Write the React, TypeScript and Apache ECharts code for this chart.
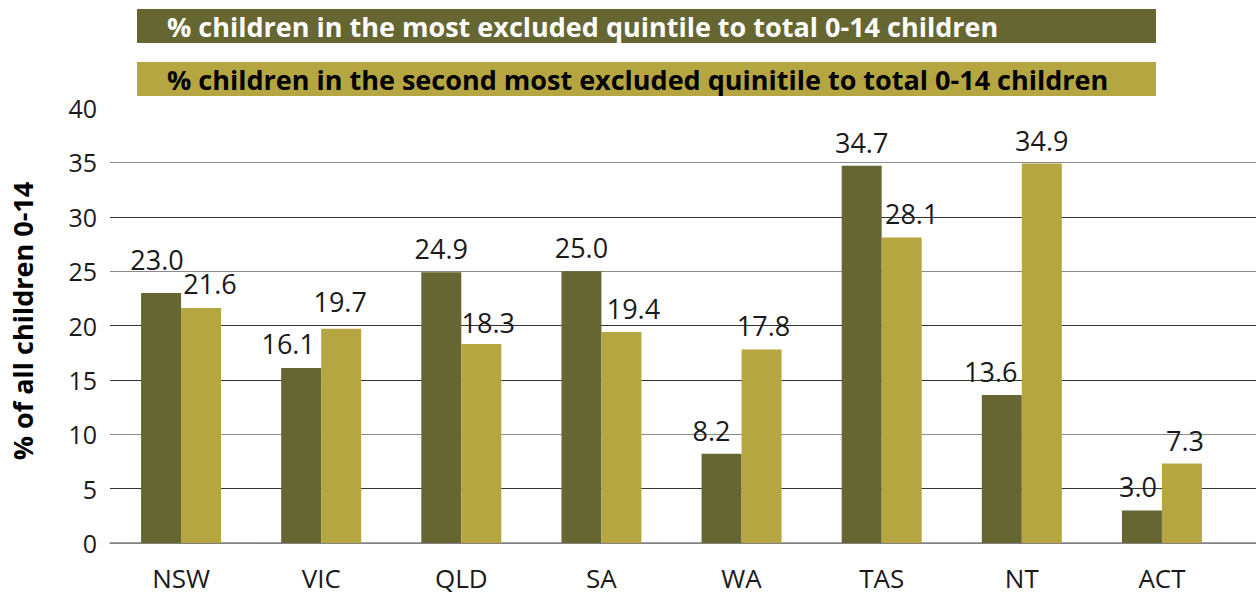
import React, { useEffect, useRef } from "react";
import * as echarts from "echarts";

const categories = ["NSW", "VIC", "QLD", "SA", "WA", "TAS", "NT", "ACT"];
const mostExcluded = [23.0, 16.1, 24.9, 25.0, 8.2, 34.7, 13.6, 3.0];
const secondMostExcluded = [21.6, 19.7, 18.3, 19.4, 17.8, 28.1, 34.9, 7.3];
const seriesNames = [
  "% children in the most excluded quintile to total 0-14 children",
  "% children in the second most excluded quinitile to total 0-14 children",
];
const yAxisTitle = "% of all children 0-14";

// label nudges (px) reproducing the hand-placed data labels of the original
const darkLabelNudge: [number, number][] = [
  [-4, -10], [-13, -1], [0, 0], [0, 0], [-10, 0], [0, 0], [-11, 0], [-4, 0],
];
const lightLabelNudge: [number, number][] = [
  [9, -1], [-1, -4], [7, 2], [12, 0], [2, 0], [10, 0], [0, 1], [3, 0],
];

const DARK = "#666633";
const LIGHT = "#B5A642";
const FONT = "'Open Sans', 'Noto Sans', sans-serif";

export default function App() {
  const ref = useRef<HTMLDivElement>(null);
  useEffect(() => {
    if (!ref.current) return;
    const chart = echarts.init(ref.current, undefined, { renderer: "svg" });
    const gridColors = ["#8a8a8a", "#333", "#8a8a8a", "#333", "#333", "#8a8a8a", "#333", "#8a8a8a", "transparent"];
    const labelBase = {
      show: true,
      position: "top" as const,
      distance: 10,
      fontSize: 27,
      fontFamily: FONT,
      color: "#1a1a1a",
      formatter: (p: any) => Number(p.value).toFixed(1),
    };
    const build = (vals: number[], nudges: [number, number][]) =>
      vals.map((v, i) => ({ value: v, label: { offset: nudges[i] } }));
    chart.setOption({
      animation: false,
      textStyle: { fontFamily: FONT },
      grid: [
        { left: 110, right: 0, top: 108, bottom: 54, containLabel: false },
        { left: 111, right: 24, top: 108, bottom: 54, containLabel: false },
      ],
      xAxis: [
        {
          type: "category",
          gridIndex: 0,
          data: categories,
          axisLine: { show: true, lineStyle: { color: "#808080", width: 1.5 } },
          axisTick: { show: false },
          axisLabel: { show: false },
        },
        {
          type: "category",
          gridIndex: 1,
          data: categories,
          axisLine: { show: false },
          axisTick: { show: false },
          axisLabel: { fontSize: 26, color: "#1a1a1a", margin: 22, fontFamily: FONT },
        },
      ],
      yAxis: [
        {
          type: "value",
          gridIndex: 0,
          min: 0,
          max: 40,
          interval: 5,
          axisLine: { show: false },
          axisTick: { show: false },
          axisLabel: { fontSize: 25, color: "#1a1a1a", margin: 13, fontFamily: FONT },
          splitLine: { show: true, lineStyle: { color: gridColors, width: 1.2 } },
        },
        {
          type: "value",
          gridIndex: 1,
          min: 0,
          max: 40,
          interval: 5,
          show: false,
          splitLine: { show: false },
        },
      ],
      series: [
        {
          name: seriesNames[0],
          type: "bar",
          xAxisIndex: 1,
          yAxisIndex: 1,
          data: build(mostExcluded, darkLabelNudge),
          barWidth: 40,
          barGap: "0%",
          itemStyle: { color: DARK },
          label: { ...labelBase },
        },
        {
          name: seriesNames[1],
          type: "bar",
          xAxisIndex: 1,
          yAxisIndex: 1,
          data: build(secondMostExcluded, lightLabelNudge),
          barWidth: 40,
          barGap: "0%",
          itemStyle: { color: LIGHT },
          label: { ...labelBase },
        },
      ],
      graphic: [
        {
          type: "rect",
          shape: { x: 137, y: 9, width: 1019, height: 34 },
          style: { fill: DARK },
        },
        {
          type: "text",
          x: 167,
          y: 26,
          style: {
            text: seriesNames[0],
            fill: "#ffffff",
            fontSize: 27,
            fontWeight: "bold",
            fontFamily: FONT,
            textAlign: "left",
            textVerticalAlign: "middle",
          },
        },
        {
          type: "rect",
          shape: { x: 137, y: 62, width: 1019, height: 34 },
          style: { fill: LIGHT },
        },
        {
          type: "text",
          x: 167,
          y: 79,
          style: {
            text: seriesNames[1],
            fill: "#000000",
            fontSize: 27,
            fontWeight: "bold",
            fontFamily: FONT,
            textAlign: "left",
            textVerticalAlign: "middle",
          },
        },
        {
          type: "text",
          x: 22,
          y: 321,
          rotation: Math.PI / 2,
          style: {
            text: yAxisTitle,
            fill: "#000000",
            fontSize: 27,
            fontWeight: "bold",
            fontFamily: FONT,
            textAlign: "center",
            textVerticalAlign: "middle",
          },
        },
      ],
    });
    return () => chart.dispose();
  }, []);
  return (
    <div
      ref={ref}
      style={{ position: "fixed", left: 0, top: 0, width: 1256, height: 597, background: "#fff" }}
    />
  );
}
